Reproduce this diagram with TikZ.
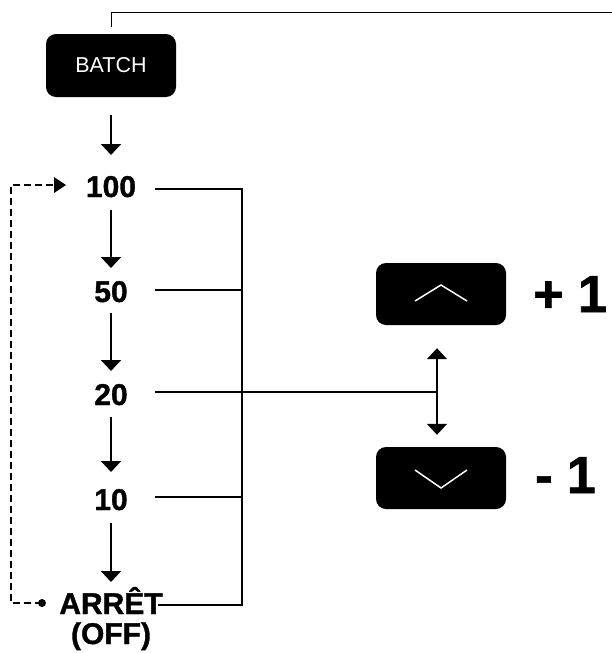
\documentclass[tikz,border=0pt]{standalone}
\usepackage{fontspec}
\setmainfont{Liberation Sans}[BoldFeatures={FakeBold=1.2}]
\usetikzlibrary{arrows.meta,calc}
\begin{document}
\begin{tikzpicture}[x=1pt,y=-1pt,
  btn/.style={fill=black,rounded corners=10pt,minimum width=130pt,minimum height=62pt,inner sep=0},
  val/.style={font=\bfseries\fontsize{30}{34}\selectfont,anchor=base,inner sep=0},
  big/.style={font=\bfseries\fontsize{52}{56}\selectfont,anchor=base west,inner sep=0},
  flow/.style={line width=2pt,-{Triangle[width=20pt,length=11pt]}},
  bus/.style={line width=1.8pt},
  dsh/.style={line width=1.6pt,dash pattern=on 7pt off 4pt}]
\useasboundingbox (0,0) rectangle (611,653);
% BATCH
\node[btn,minimum width=130pt,minimum height=63pt] (batch) at (111,65.5) {};
\node[text=white,font=\fontsize{21.5}{24}\selectfont,inner sep=0] (batchtxt) at (batch) {BATCH};
\coordinate (topA) at (111,27);
\coordinate (topB) at (612,12);
\draw[line width=1pt] (topA) |- (topB);
% values
\node[val] (n100) at (111,197) {100};
\node[val] (n50) at (111,302) {50};
\node[val] (n20) at (111,405) {20};
\node[val] (n10) at (111,510) {10};
\node[val] (arret) at (111,614) {ARRÊT};
\node[val] (off) at (111,644) {(OFF)};
% arrows
\draw[flow,shorten <=18pt,shorten >=42pt] (batch.south) -- (batch.south |- n100.base);
\draw[flow,shorten <=13pt,shorten >=34pt] (n100.base) -- (n50.base);
\draw[flow,shorten <=11pt,shorten >=34pt] (n50.base) -- (n20.base);
\draw[flow,shorten <=12pt,shorten >=38pt] (n20.base) -- (n10.base);
\draw[flow,shorten <=13pt,shorten >=32pt] (n10.base) -- (arret.base);
% bus
\coordinate (b100) at (242,189);
\coordinate (bOff) at (242,605);
\coordinate (s100) at (155,189);
\coordinate (s50) at (155,290);
\coordinate (s10) at (155,497);
\coordinate (sOff) at (158,605);
\draw[bus] (s100) -- (b100) -- (bOff) -- (sOff);
\draw[bus] (s50) -- (s50 -| b100);
\draw[bus] (s10) -- (s10 -| b100);
% buttons
\node[btn] (up) at (441,294) {};
\node[btn] (down) at (441,478) {};
\draw[white,line width=1.5pt] ($(up.center)+(-26,7)$) -- ($(up.center)+(0,-9)$) -- ($(up.center)+(26,7)$);
\draw[white,line width=1.5pt] ($(down.center)+(-26,-8)$) -- ($(down.center)+(0,10)$) -- ($(down.center)+(26,-8)$);
\node[big] (plus) at (533,312) {+ 1};
\node[big] (minus) at (535,493) {- 1};
% 20 link and double arrow
\coordinate (s20) at (155,392);
\coordinate (j) at (437,392);
\draw[bus] (s20) -- (j);
\draw[line width=1.5pt,{Triangle[width=20pt,length=11pt]}-{Triangle[width=20pt,length=11pt]},shorten <=23pt,shorten >=12pt] ([xshift=-4pt]up.south) -- ([xshift=-4pt]down.north);
% dashed loop
\coordinate (dot) at (42,603);
\coordinate (dl) at (11,185);
\coordinate (dt) at (66,185);
\fill (dot) circle (4pt);
\draw[dsh] (dot) -- (dot -| dl) -- (dl) -- ($(dt)+(-11,0)$);
\fill (dt) -- ++(-12,-8) -- ++(0,16) -- cycle;
\end{tikzpicture}
\end{document}
